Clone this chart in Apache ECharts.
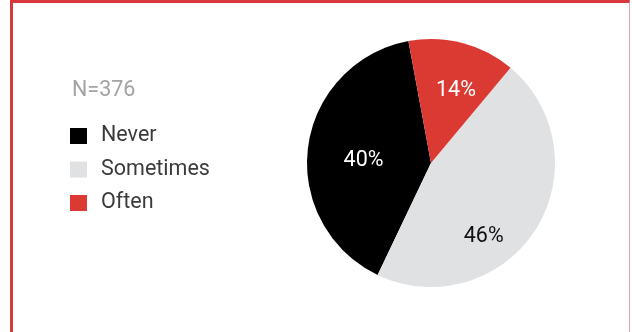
<!DOCTYPE html>
<html>
<head>
<meta charset="utf-8">
<script src="https://cdn.jsdelivr.net/npm/echarts@6/dist/echarts.min.js"></script>
<style>
  html, body { margin: 0; padding: 0; background: #ffffff; }
  #frame { position: absolute; left: 10px; top: 0; width: 620px; height: 340px;
           border-left: 3px solid #d8373e; border-top: 3px solid #d8373e; border-right: 1px solid #e3a4aa; box-sizing: border-box; }
  #chart { position: absolute; left: 0; top: 0; width: 632px; height: 332px; }
</style>
</head>
<body>
<div id="frame"></div>
<div id="chart"></div>
<script>
const sampleLabel = 'N=376';
const categories = ['Never', 'Sometimes', 'Often'];
const values = [40, 46, 14];

const sliceColors = ['#000000', '#e0e1e3', '#db3a33'];
const labelColors = ['#ffffff', '#111111', '#ffffff'];
const labelOffsets = [[-3, 6.5], [-2, 38.5], [8.5, -10]];

const chart = echarts.init(document.getElementById('chart'), null, { renderer: 'canvas' });
chart.setOption({
  animation: false,
  backgroundColor: 'transparent',
  title: {
    text: sampleLabel,
    left: 72, top: 80, padding: 0,
    textStyle: { fontFamily: 'Roboto', fontSize: 21.5, fontWeight: 'normal', color: '#a3a3a3' }
  },
  legend: {
    orient: 'vertical',
    left: 70, top: 125, padding: 0,
    icon: 'rect',
    itemWidth: 17, itemHeight: 16,
    itemGap: 11.5,
    data: categories,
    textStyle: { fontFamily: 'Roboto', fontSize: 21.5, color: '#3b3b3b', padding: [0, 0, 0, 9] }
  },
  series: [{
    type: 'pie',
    center: [431, 163],
    radius: 124,
    startAngle: 100.5,
    clockwise: false,
    avoidLabelOverlap: false,
    label: {
      show: true, position: 'inside',
      fontFamily: 'Roboto', fontSize: 21.5,
      formatter: p => p.value + '%'
    },
    labelLine: { show: false },
    emphasis: { disabled: true },
    data: categories.map((c, i) => ({
      name: c, value: values[i],
      itemStyle: { color: sliceColors[i] },
      label: { color: labelColors[i], offset: labelOffsets[i] }
    }))
  }]
});
</script>
</body>
</html>
